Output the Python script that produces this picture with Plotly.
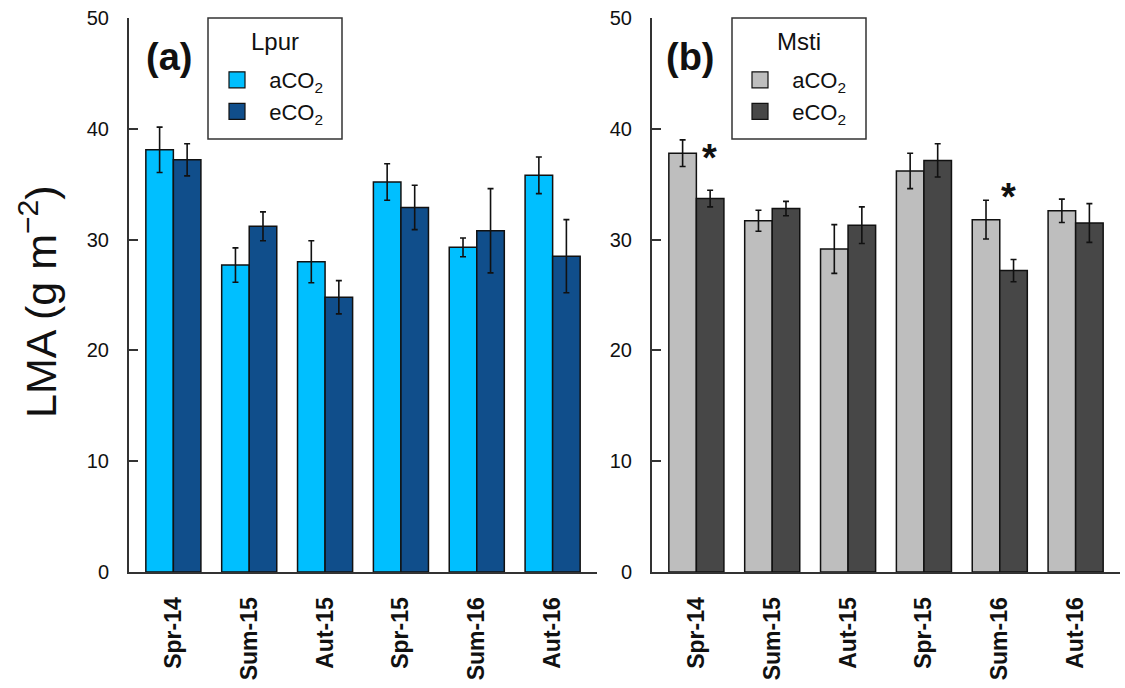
import plotly.graph_objects as go

# ---- data ----
seasons = ["Spr-14", "Sum-15", "Aut-15", "Spr-15", "Sum-16", "Aut-16"]

lpur_a = [38.1, 27.7, 28.0, 35.2, 29.3, 35.8]
lpur_a_se = [2.05, 1.55, 1.9, 1.65, 0.85, 1.65]
lpur_e = [37.2, 31.2, 24.8, 32.9, 30.8, 28.5]
lpur_e_se = [1.45, 1.3, 1.5, 2.0, 3.8, 3.3]

msti_a = [37.8, 31.7, 29.15, 36.2, 31.8, 32.6]
msti_a_se = [1.2, 0.95, 2.2, 1.6, 1.75, 1.05]
msti_e = [33.7, 32.8, 31.3, 37.15, 27.2, 31.5]
msti_e_se = [0.75, 0.65, 1.65, 1.5, 1.0, 1.75]

sig_seasons = ["Spr-14", "Sum-16"]
sig_y = [37.9, 34.4]

y_ticks = [0, 10, 20, 30, 40, 50]
legend_names = ["aCO<sub>2</sub>", "eCO<sub>2</sub>"]
species = ["Lpur", "Msti"]

# ---- style ----
FONT = "Liberation Sans, Arial, sans-serif"
W, H = 1125, 688
LP_COLORS = ["#00BFFF", "#104E8B"]
MS_COLORS = ["#BEBEBE", "#474747"]
NB = "\u00a0\u00a0"

fig = go.Figure()

def add_panel(vals_a, se_a, vals_e, se_e, colors, xa, ya, leg):
    for vals, se, col in [(vals_a, se_a, colors[0]), (vals_e, se_e, colors[1])]:
        fig.add_trace(go.Bar(
            x=seasons, y=vals, xaxis=xa, yaxis=ya,
            marker=dict(color=col, line=dict(color="#111111", width=1.5)),
            error_y=dict(type="data", array=se, color="#111111", thickness=1.6, width=3),
            showlegend=False, offsetgroup=col,
        ))
    for name, col in zip(legend_names, colors):
        fig.add_trace(go.Scatter(
            x=[seasons[0]], y=[None], xaxis=xa, yaxis=ya, mode="markers",
            marker=dict(symbol="square", size=16, color=col, line=dict(color="#111111", width=1.2)),
            name=NB + name, legend=leg, showlegend=True,
        ))

add_panel(lpur_a, lpur_a_se, lpur_e, lpur_e_se, LP_COLORS, "x", "y", "legend")
add_panel(msti_a, msti_a_se, msti_e, msti_e_se, MS_COLORS, "x2", "y2", "legend2")

xdom1 = [129 / W, 597 / W]
xdom2 = [652 / W, 1120 / W]
ydom = [116 / H, 670 / H]

xcommon = dict(
    type="category", range=[-0.585, 5.585], showline=True, linecolor="#333333", linewidth=2,
    ticks="", showgrid=False, zeroline=False, tickangle=-90,
    tickfont=dict(family=FONT, size=23, color="#111111", weight="bold"),
    ticklabelstandoff=14, automargin=False,
)
ycommon = dict(
    range=[0, 50], tickvals=y_ticks, showline=True, linecolor="#333333", linewidth=2,
    ticks="inside", ticklen=9, tickwidth=1.5, tickcolor="#333333",
    showgrid=False, zeroline=False,
    tickfont=dict(family=FONT, size=20, color="#111111"),
    ticklabelstandoff=14, automargin=False,
)

legcommon = dict(
    xanchor="left", yanchor="top", bgcolor="rgba(0,0,0,0)", borderwidth=0,
    font=dict(family=FONT, size=22, color="#111111"), itemsizing="trace",
    tracegroupgap=0,
)

fig.update_layout(
    width=W, height=H, template="none",
    margin=dict(l=0, r=0, t=0, b=0),
    paper_bgcolor="white", plot_bgcolor="white",
    barmode="group", bargap=0.274, bargroupgap=0,
    xaxis=dict(domain=xdom1, anchor="y", **xcommon),
    yaxis=dict(domain=ydom, anchor="x", **ycommon),
    xaxis2=dict(domain=xdom2, anchor="y2", **xcommon),
    yaxis2=dict(domain=ydom, anchor="x2", **ycommon),
    legend=dict(x=217 / W, y=1 - 59 / H, **legcommon),
    legend2=dict(x=740 / W, y=1 - 59 / H, **legcommon),
    showlegend=True,
)

# legend boxes and titles
for (x0, x1), sp in zip([(208, 342), (732, 866)], species):
    fig.add_shape(type="rect", xref="paper", yref="paper",
                  x0=x0 / W, x1=x1 / W, y0=1 - 139 / H, y1=1 - 18 / H,
                  line=dict(color="#333333", width=1.5), fillcolor="rgba(0,0,0,0)", layer="above")
    fig.add_annotation(text=sp, xref="paper", yref="paper", x=(x0 + x1) / 2 / W, y=1 - 41 / H,
                       xanchor="center", yanchor="middle", showarrow=False,
                       font=dict(family=FONT, size=24, color="#111111"))

# panel labels
for txt, xc in [("(a)", 169), ("(b)", 690)]:
    fig.add_annotation(text=f"<b>{txt}</b>", xref="paper", yref="paper", x=xc / W, y=1 - 57 / H,
                       xanchor="center", yanchor="middle", showarrow=False,
                       font=dict(family=FONT, size=38, color="#111111"))

# y axis title
fig.add_annotation(text="LMA (g m<sup>−2</sup>)", xref="paper", yref="paper", x=38 / W, y=1 - 302 / H,
                   xanchor="center", yanchor="middle", textangle=-90, showarrow=False,
                   font=dict(family=FONT, size=43, color="#111111"))

# significance asterisks (panel b)
for s, yv, dx in zip(sig_seasons, sig_y, [13, 9]):
    fig.add_annotation(text="<b>*</b>", xref="x2", yref="y2", x=s, y=yv, xshift=dx, yshift=-6,
                       xanchor="center", yanchor="middle", showarrow=False,
                       font=dict(family=FONT, size=38, color="#111111"))

fig.write_html("out.html")
